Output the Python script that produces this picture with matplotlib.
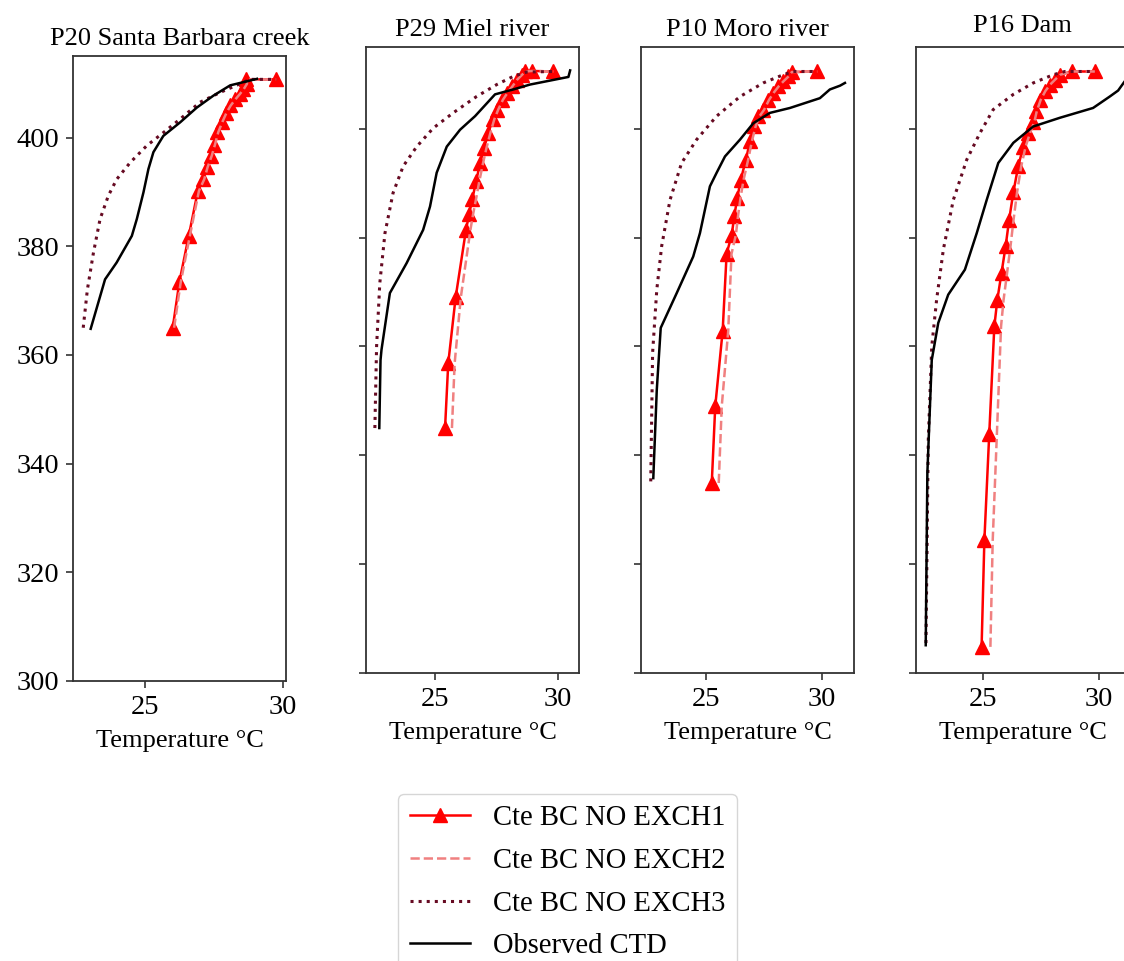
import matplotlib
matplotlib.use("Agg")
import matplotlib.pyplot as plt
import numpy as np

plt.rcParams['font.family'] = ['Liberation Serif', 'DejaVu Serif']
plt.rcParams['font.size'] = 19

titles = ["P20 Santa Barbara creek", "P29 Miel river", "P10 Moro river", "P16 Dam"]
labels = ["Cte BC NO EXCH1", "Cte BC NO EXCH2", "Cte BC NO EXCH3", "Observed CTD"]

# --- P20 Santa Barbara creek ---
p20_z1 = [365.0, 373.4, 381.9, 390.2, 392.3, 394.5, 396.6, 398.7, 401.0, 402.9,
          404.6, 405.9, 407.1, 408.0, 408.9, 409.9, 410.7, 410.7]
p20_t1 = [26.00, 26.24, 26.58, 26.91, 27.11, 27.23, 27.38, 27.50, 27.62, 27.78,
          27.93, 28.08, 28.26, 28.42, 28.56, 28.68, 28.66, 29.75]
p20_t2 = [26.05, 26.29, 26.62, 26.95, 27.14, 27.26, 27.41, 27.53, 27.65, 27.80,
          27.95, 28.10, 28.28, 28.43, 28.57, 28.69, 28.67, 29.75]
p20_z3 = [365.0, 372.0, 378.8, 385.0, 389.3, 392.3, 395.4, 398.5, 400.9, 403.4,
          406.5, 408.3, 409.9, 410.7, 410.7]
p20_t3 = [22.76, 22.91, 23.13, 23.37, 23.67, 23.97, 24.46, 25.06, 25.66, 26.27,
          26.99, 27.72, 28.44, 28.80, 29.75]
p20_zo = [364.8, 373.9, 377.0, 381.9, 385.0, 389.9, 394.2, 397.3, 400.3, 402.8,
          405.5, 407.7, 409.6, 410.8]
p20_to = [23.03, 23.55, 23.97, 24.52, 24.70, 24.94, 25.12, 25.30, 25.66, 26.27,
          26.87, 27.47, 28.08, 29.05]

# --- P29 Miel river ---
p29_z1 = [345.0, 356.9, 369.0, 381.4, 384.3, 387.1, 390.3, 393.6, 396.4, 399.2,
          401.7, 403.5, 405.3, 406.6, 407.8, 409.0, 409.9, 410.5, 410.6, 410.5]
p29_t1 = [25.41, 25.54, 25.84, 26.26, 26.39, 26.52, 26.67, 26.83, 26.99, 27.17,
          27.34, 27.51, 27.71, 27.91, 28.12, 28.32, 28.52, 28.66, 28.95, 29.81]
p29_t2 = [25.69, 25.80, 26.05, 26.44, 26.55, 26.67, 26.80, 26.95, 27.09, 27.25,
          27.41, 27.57, 27.76, 27.95, 28.15, 28.34, 28.54, 28.67, 28.95, 29.81]
p29_z3 = [345.0, 360.0, 371.6, 380.8, 388.2, 393.1, 396.7, 400.1, 402.9, 405.9,
          408.1, 409.6, 410.4, 410.5]
p29_t3 = [22.56, 22.63, 22.76, 22.97, 23.30, 23.71, 24.26, 24.93, 25.74, 26.69,
          27.51, 28.18, 28.73, 29.81]
p29_zo = [345.0, 357.5, 359.4, 369.8, 375.3, 381.4, 385.7, 391.9, 396.7, 399.8,
          402.3, 406.3, 407.2, 408.1, 409.5, 410.7]
p29_to = [22.74, 22.79, 22.83, 23.17, 23.85, 24.52, 24.80, 25.07, 25.48, 26.02,
          26.63, 27.44, 28.18, 28.86, 30.42, 30.49]

# --- P10 Moro river ---
p10_z1 = [334.9, 349.0, 362.9, 377.0, 380.5, 383.9, 387.3, 390.6, 394.3, 397.7,
          400.4, 402.3, 403.5, 405.3, 406.6, 407.8, 408.7, 409.6, 410.4, 410.5]
p10_t1 = [25.25, 25.40, 25.72, 25.89, 26.11, 26.22, 26.35, 26.50, 26.72, 26.90,
          27.08, 27.26, 27.47, 27.69, 27.90, 28.12, 28.33, 28.55, 28.69, 29.80]
p10_t2 = [25.55, 25.68, 25.96, 26.10, 26.29, 26.38, 26.49, 26.62, 26.82, 26.98,
          27.14, 27.31, 27.51, 27.72, 27.92, 28.14, 28.34, 28.56, 28.70, 29.80]
p10_z3 = [335.2, 358.8, 370.4, 378.4, 386.9, 393.7, 398.0, 402.3, 405.9, 408.4,
          409.9, 410.5, 410.5]
p10_t3 = [22.62, 22.70, 22.88, 23.09, 23.45, 23.95, 24.60, 25.46, 26.47, 27.47,
          28.33, 28.76, 29.80]
p10_zo = [335.8, 352.0, 363.4, 369.8, 376.5, 380.8, 389.4, 391.9, 394.9, 398.0,
          401.0, 402.9, 403.8, 405.6, 407.2, 407.9, 408.4]
p10_to = [22.73, 22.88, 23.05, 23.74, 24.45, 24.74, 25.17, 25.46, 25.82, 26.47,
          27.04, 27.76, 28.62, 29.91, 30.34, 30.78, 30.99]

# --- P16 Dam ---
p16_z1 = [304.8, 324.4, 343.9, 363.7, 368.6, 373.5, 378.5, 383.3, 388.3, 393.1,
          396.7, 399.2, 401.3, 403.2, 405.3, 406.9, 408.1, 409.0, 409.9, 410.5, 410.5]
p16_t1 = [24.94, 25.06, 25.27, 25.49, 25.62, 25.80, 25.98, 26.13, 26.31, 26.52,
          26.74, 26.95, 27.17, 27.28, 27.46, 27.67, 27.89, 28.10, 28.32, 28.82, 29.83]
p16_t2 = [25.32, 25.42, 25.60, 25.78, 25.89, 26.04, 26.19, 26.32, 26.47, 26.65,
          26.84, 27.03, 27.22, 27.32, 27.49, 27.69, 27.90, 28.11, 28.33, 28.82, 29.83]
p16_z3 = [305.5, 342.8, 360.0, 368.6, 377.8, 386.9, 394.3, 399.2, 403.5, 406.3,
          408.4, 409.9, 410.5, 410.5]
p16_t3 = [22.54, 22.64, 22.79, 23.00, 23.29, 23.72, 24.30, 24.87, 25.44, 26.31,
          27.17, 28.03, 28.53, 29.83]
p16_zo = [305.1, 336.7, 357.5, 364.3, 369.5, 374.1, 380.8, 386.9, 393.7, 397.4,
          400.4, 402.0, 403.8, 405.9, 407.0, 408.6]
p16_to = [22.53, 22.60, 22.79, 23.07, 23.50, 24.22, 24.73, 25.16, 25.66, 26.31,
          27.17, 28.32, 29.75, 30.47, 30.83, 31.10]

panels = [
    (p20_z1, p20_t1, p20_t2, p20_z3, p20_t3, p20_zo, p20_to),
    (p29_z1, p29_t1, p29_t2, p29_z3, p29_t3, p29_zo, p29_to),
    (p10_z1, p10_t1, p10_t2, p10_z3, p10_t3, p10_zo, p10_to),
    (p16_z1, p16_t1, p16_t2, p16_z3, p16_t3, p16_zo, p16_to),
]
xlims = [(22.39, 30.1), (22.2, 30.85), (22.2, 31.38), (22.11, 31.3)]

# axes boxes in pixels (left, top, height) of a 1124x961 canvas, each 213 wide
W, H = 1124, 961
boxes = [(73, 56, 625), (366, 47, 626), (641, 47, 626), (916, 47, 626)]
title_pads = [8, 8, 8, 11]

fig = plt.figure(figsize=(W / 100, H / 100), dpi=100)

handles = None
for i, (data, (left, top, h)) in enumerate(zip(panels, boxes)):
    z1, t1, t2, z3, t3, zo, to = data
    ax = fig.add_axes([left / W, 1 - (top + h) / H, 213 / W, h / H])
    l1, = ax.plot(t1, z1, '-^', color='red', lw=1.8, ms=10, label=labels[0])
    l2, = ax.plot(t2, z1, '--', color='#f08080', lw=1.8, label=labels[1])
    l3, = ax.plot(t3, z3, ':', color='#660a22', lw=2.2, label=labels[2])
    l4, = ax.plot(to, zo, '-', color='black', lw=1.8, label=labels[3])
    handles = [l1, l2, l3, l4]
    ax.set_xlim(*xlims[i])
    ax.set_ylim(300, 415)
    ax.set_xticks([25, 30])
    ax.set_yticks([300, 320, 340, 360, 380, 400])
    if i > 0:
        ax.set_yticklabels([])
    ax.set_title(titles[i], fontsize=19, pad=title_pads[i])
    ax.set_xlabel("Temperature °C", fontsize=19, labelpad=7)
    ax.tick_params(labelsize=20.5, length=5, width=1.2, color='#333333', pad=5)
    for s in ax.spines.values():
        s.set_linewidth(1.3)
        s.set_color('#333333')

fig.legend(handles, labels, loc='upper center', bbox_to_anchor=(0.505, 0.1738),
           fontsize=20.6, handlelength=2.1, handletextpad=0.8, labelspacing=0.58,
           borderpad=0.4, borderaxespad=0)

fig.savefig("out.png", dpi=100)
